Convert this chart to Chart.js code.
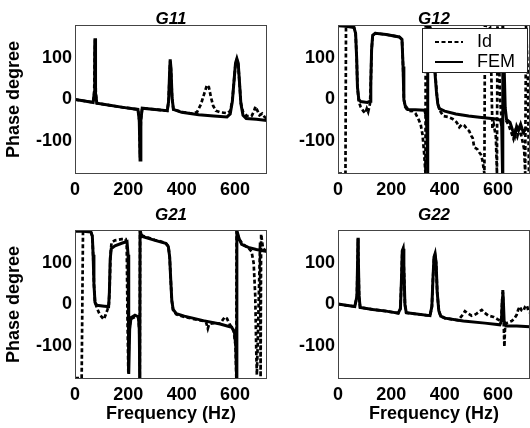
<!DOCTYPE html>
<html>
<head>
<meta charset="utf-8">
<script src="https://cdn.jsdelivr.net/npm/chart.js@4.4.0/dist/chart.umd.min.js"></script>
<style>
  html, body { margin: 0; padding: 0; background: #fff; width: 530px; height: 428px; overflow: hidden; }
  canvas { position: absolute; }
</style>
</head>
<body>
<canvas id="g11" width="270" height="214" style="left:0;top:0"></canvas>
<canvas id="g12" width="270" height="214" style="left:263px;top:0"></canvas>
<canvas id="g21" width="270" height="228" style="left:0;top:200px"></canvas>
<canvas id="g22" width="270" height="228" style="left:263px;top:200px"></canvas>
<script>
const xTicks = [0, 200, 400, 600];
const yTicks = [-100, 0, 100];
const seriesNames = ['Id', 'FEM'];
const panelTitles = ['G11', 'G12', 'G21', 'G22'];

// [frequency Hz, phase degree]
const g11Fem = [[0,0],[30,-3],[68,-7],[72,15],[74,110],[75,148],[76,110],[78,15],[82,-9],[130,-14],[180,-19],[236,-24],[241,-50],[244,-146],[247,-50],[252,-21],[300,-24],[346,-27],[351,-5],[355,70],[357,97],[360,75],[364,5],[369,-24],[400,-31],[464,-37],[520,-40],[570,-42],[582,-35],[590,-5],[597,50],[602,88],[607,99],[612,88],[617,40],[622,-10],[630,-38],[642,-46],[680,-48],[720,-51]];
const g11Id = [[0,0],[30,-3],[68,-7],[72,15],[74,110],[75,145],[76,110],[78,15],[82,-9],[130,-14],[180,-19],[236,-24],[241,-50],[244,-140],[247,-50],[252,-21],[300,-24],[346,-27],[351,-5],[355,65],[357,92],[360,70],[364,5],[369,-24],[400,-30],[440,-34],[458,-30],[472,-12],[485,15],[495,35],[502,30],[510,5],[518,-15],[528,-27],[545,-31],[570,-33],[582,-28],[590,-3],[597,50],[602,86],[607,96],[612,86],[617,38],[622,-8],[630,-30],[645,-40],[662,-40],[670,-30],[677,-17],[684,-27],[692,-38],[702,-34],[712,-43],[720,-46]];

const g12Fem = [[0,178],[30,177],[60,174],[66,160],[70,100],[73,30],[78,0],[85,-5],[110,-7],[120,-4],[123,40],[126,120],[130,155],[140,160],[180,157],[230,151],[240,145],[244,80],[247,0],[252,-15],[262,-24],[290,-25],[325,-26],[331,-40],[334,-90],[336,-179],[337,179],[345,175],[355,130],[363,70],[369,20],[374,-10],[380,-22],[400,-28],[442,-35],[490,-40],[530,-43],[593,-47],[610,-50],[614,-65],[617,-179],[618,179],[623,80],[627,-20],[632,-48],[645,-55],[655,-75],[663,-88],[670,-65],[677,-75],[685,-60],[695,-80],[705,-70],[720,-75]];
const g12Id = [[0,-179],[28,-179],[30,179],[60,174],[66,160],[70,100],[73,30],[78,-5],[85,-18],[95,-28],[102,-33],[108,-22],[113,-30],[120,-10],[123,40],[126,120],[130,155],[140,160],[180,157],[230,151],[240,145],[244,80],[247,0],[252,-18],[262,-27],[280,-28],[290,-33],[300,-45],[310,-60],[317,-85],[323,-130],[328,-179],[329,179],[345,173],[357,120],[365,60],[371,10],[376,-15],[385,-30],[395,-40],[412,-42],[430,-47],[445,-55],[455,-67],[465,-60],[474,-63],[485,-72],[492,-76],[500,-88],[505,-93],[511,-116],[518,-118],[524,-121],[530,-128],[536,-133],[542,-148],[549,-179],[551,179],[570,175],[575,60],[579,-70],[584,-60],[592,-90],[596,-179],[598,179],[603,120],[608,0],[613,-45],[620,-52],[630,-50],[640,-62],[650,-80],[658,-95],[664,-78],[672,-90],[680,-70],[690,-95],[698,-120],[702,-179],[705,179],[712,60],[716,-179]];

const g21Fem = [[0,177],[30,177],[60,175],[65,165],[68,120],[71,50],[75,5],[82,-2],[110,-4],[126,-5],[129,30],[132,110],[136,135],[150,142],[175,148],[195,152],[199,120],[201,-60],[202,-168],[205,-60],[210,-32],[225,-26],[238,-30],[241,-60],[243,-179],[244,179],[250,165],[300,155],[340,148],[350,140],[355,115],[359,60],[363,10],[368,-12],[380,-22],[410,-28],[481,-39],[544,-47],[588,-55],[598,-68],[603,-100],[606,-179],[607,179],[615,160],[625,145],[650,138],[680,133],[720,128]];
const g21Id = [[0,-178],[25,-178],[30,178],[60,175],[65,165],[68,120],[71,50],[75,5],[82,-8],[90,-20],[100,-30],[108,-36],[115,-25],[122,-12],[127,0],[130,40],[133,120],[137,150],[150,155],[175,158],[190,158],[194,140],[197,-40],[200,-165],[203,-60],[209,-35],[225,-30],[238,-33],[241,-60],[243,-179],[244,179],[250,167],[300,156],[340,149],[350,141],[355,115],[359,60],[363,10],[368,-14],[380,-24],[410,-30],[480,-40],[492,-44],[498,-58],[503,-47],[520,-45],[545,-46],[553,-38],[562,-30],[570,-34],[580,-48],[595,-62],[602,-100],[605,-179],[606,179],[615,158],[630,145],[650,137],[662,128],[670,100],[676,20],[680,-120],[682,-170],[685,-100],[690,40],[694,150],[696,-175],[698,170],[705,135],[720,128]];

const g22Fem = [[0,1],[30,-2],[63,-5],[71,20],[74,120],[75,161],[76,120],[79,20],[83,-7],[130,-12],[180,-16],[226,-21],[234,-10],[238,60],[241,130],[244,135],[247,90],[251,0],[256,-20],[280,-22],[345,-27],[352,-5],[356,60],[360,115],[364,123],[368,100],[372,30],[378,-15],[385,-28],[401,-33],[470,-40],[551,-45],[607,-49],[613,-40],[616,10],[618,35],[620,10],[623,-40],[630,-52],[670,-52],[720,-54]];
const g22Id = [[0,1],[30,-2],[63,-5],[71,20],[74,120],[75,158],[76,120],[79,20],[83,-7],[130,-12],[180,-16],[226,-21],[234,-10],[238,60],[241,128],[244,133],[247,90],[251,0],[256,-20],[280,-22],[345,-27],[352,-5],[356,60],[360,112],[364,120],[368,100],[372,30],[378,-15],[385,-28],[401,-33],[430,-36],[450,-38],[465,-27],[476,-16],[488,-22],[501,-27],[512,-25],[520,-22],[530,-17],[539,-13],[550,-20],[564,-27],[583,-30],[602,-37],[612,-40],[616,10],[618,30],[620,0],[622,-60],[624,-102],[626,-60],[632,-45],[651,-40],[660,-35],[670,-25],[676,-12],[682,-5],[688,-14],[695,-16],[702,-5],[708,-2],[714,-15],[720,-20]];

const FONT = 'Arial, "Liberation Sans", sans-serif';

// box around the plot area
const framePlugin = {
  id: 'frame',
  afterDatasetsDraw(chart) {
    const { ctx, chartArea: a } = chart;
    ctx.save();
    ctx.strokeStyle = '#444';
    ctx.lineWidth = 1;
    ctx.strokeRect(a.left + 0.5, a.top + 0.5, a.width - 1, a.height - 1);
    ctx.restore();
  }
};

// legend drawn inside the plot, top right
const boxLegendPlugin = {
  id: 'boxLegend',
  afterDraw(chart, args, opts) {
    if (!opts.show) return;
    const { ctx } = chart;
    ctx.save();
    ctx.fillStyle = '#fff';
    ctx.fillRect(opts.x, opts.y, opts.w, opts.h);
    ctx.strokeStyle = '#222';
    ctx.lineWidth = 1;
    ctx.strokeRect(opts.x + 0.5, opts.y + 0.5, opts.w - 1, opts.h - 1);
    ctx.font = '18px ' + FONT;
    ctx.fillStyle = '#000';
    ctx.textBaseline = 'middle';
    chart.data.datasets.forEach((ds, i) => {
      const y = opts.y + 14 + i * 20;
      ctx.strokeStyle = ds.borderColor;
      ctx.lineWidth = 2;
      ctx.setLineDash(ds.borderDash || []);
      ctx.beginPath();
      ctx.moveTo(opts.x + 13, y);
      ctx.lineTo(opts.x + 41, y);
      ctx.stroke();
      ctx.setLineDash([]);
      ctx.fillText(ds.label, opts.x + 55, y);
    });
    ctx.restore();
  }
};

function toPoints(arr) {
  return arr.map(p => ({ x: p[0], y: p[1] }));
}

function makePanel(id, title, idData, femData, cfg) {
  new Chart(document.getElementById(id), {
    type: 'line',
    data: {
      datasets: [
        { label: seriesNames[0], data: toPoints(idData), borderColor: '#000', borderWidth: 2.7, borderDash: [4, 2.5], pointRadius: 0, tension: 0 },
        { label: seriesNames[1], data: toPoints(femData), borderColor: '#000', borderWidth: 3, pointRadius: 0, tension: 0 }
      ]
    },
    options: {
      responsive: false,
      animation: false,
      layout: { padding: { left: 0, right: 3, top: 0, bottom: 0 } },
      plugins: {
        legend: { display: false },
        tooltip: { enabled: false },
        title: {
          display: true,
          text: title,
          color: '#000',
          fullSize: false,
          font: { family: FONT, size: 17, weight: 'bold', style: 'italic', lineHeight: 1 },
          padding: cfg.titlePad
        },
        boxLegend: cfg.legend || { show: false }
      },
      scales: {
        x: {
          type: 'linear',
          min: 0,
          max: 720,
          afterBuildTicks: s => { s.ticks = xTicks.map(v => ({ value: v })); },
          afterFit: s => { s.height = cfg.xHeight; },
          grid: { display: false, drawTicks: false },
          border: { display: false },
          ticks: { color: '#000', padding: 5, maxRotation: 0, autoSkip: false, font: { family: FONT, size: 18, weight: 'bold' } },
          title: {
            display: cfg.xTitle,
            text: 'Frequency (Hz)',
            color: '#000',
            font: { family: FONT, size: 18, weight: 'bold' },
            padding: { top: 0, bottom: 3 }
          }
        },
        y: {
          min: -180,
          max: 180,
          afterBuildTicks: s => { s.ticks = yTicks.map(v => ({ value: v })); },
          afterFit: s => { s.width = 75; },
          grid: { display: false, drawTicks: false },
          border: { display: false },
          ticks: { color: '#000', padding: 3, font: { family: FONT, size: 18, weight: 'bold' } },
          title: {
            display: cfg.yTitle,
            text: 'Phase degree',
            color: '#000',
            font: { family: FONT, size: 18, weight: 'bold' },
            padding: { top: 3, bottom: 0 }
          }
        }
      }
    },
    plugins: [framePlugin, boxLegendPlugin]
  });
}

makePanel('g11', panelTitles[0], g11Id, g11Fem, { yTitle: true, xTitle: false, xHeight: 40, titlePad: { top: 11, bottom: -3 } });
makePanel('g12', panelTitles[1], g12Id, g12Fem, { yTitle: false, xTitle: false, xHeight: 40, titlePad: { top: 11, bottom: -3 },
  legend: { show: true, x: 159, y: 28, w: 106, h: 45 } });
makePanel('g21', panelTitles[2], g21Id, g21Fem, { yTitle: true, xTitle: true, xHeight: 49, titlePad: { top: 7, bottom: 6 } });
makePanel('g22', panelTitles[3], g22Id, g22Fem, { yTitle: false, xTitle: true, xHeight: 49, titlePad: { top: 7, bottom: 6 } });
</script>
</body>
</html>
